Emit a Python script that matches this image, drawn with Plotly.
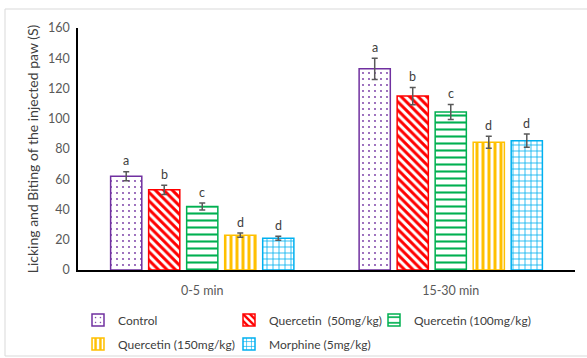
import plotly.graph_objects as go

# Time windows after injection
periods = ["0-5 min", "15-30 min"]

# Treatment groups
groups = ["Control", "Quercetin  (50mg/kg)", "Quercetin (100mg/kg)",
          "Quercetin (150mg/kg)", "Morphine (5mg/kg)"]

# Mean licking/biting time (s) per group, one value per period
control = [62, 133]
quercetin_50 = [53, 115]
quercetin_100 = [42, 104.5]
quercetin_150 = [23, 84.5]
morphine = [21, 85.5]

# Standard errors
control_err = [3, 7]
quercetin_50_err = [3, 5.7]
quercetin_100_err = [2.3, 5]
quercetin_150_err = [1.4, 4]
morphine_err = [1.3, 4.4]

# Significance letters
control_sig = ["a", "a"]
quercetin_50_sig = ["b", "b"]
quercetin_100_sig = ["c", "c"]
quercetin_150_sig = ["d", "d"]
morphine_sig = ["d", "d"]

values = [control, quercetin_50, quercetin_100, quercetin_150, morphine]
errors = [control_err, quercetin_50_err, quercetin_100_err, quercetin_150_err, morphine_err]
letters = [control_sig, quercetin_50_sig, quercetin_100_sig, quercetin_150_sig, morphine_sig]
colors = ["#7030A0", "#FF0000", "#00B050", "#FFC000", "#00B0F0"]
patterns = [(".", 6, 0.07), ("\\", 6, 0.5), ("-", 7, 0.3), ("|", 6, 0.5), ("+", 6, 0.25)]

FONT = "Lato, Calibri, sans-serif"
W, H = 587, 358
M_L, M_R, M_T, M_B = 78, 12, 28, 88
BARGAP, GROUPGAP = 0.235, 0.18

# One single-entry legend per group, laid out in two rows under the axis
legend_pos = [(78, 320), (229, 320), (374, 320), (78, 344), (229, 344)]
legend_ids = ["legend", "legend2", "legend3", "legend4", "legend5"]

fig = go.Figure()
for name, vals, errs, col, (shp, sz, sol), lid in zip(groups, values, errors, colors,
                                                      patterns, legend_ids):
    fig.add_trace(go.Bar(
        name=name, x=periods, y=vals, legend=lid,
        marker=dict(color="white", line=dict(color=col, width=1.5),
                    pattern=dict(shape=shp, fgcolor=col, bgcolor="white",
                                 size=sz, solidity=sol, fillmode="replace")),
        error_y=dict(type="data", array=errs, color="#595959",
                     thickness=1.5, width=3),
    ))

# Letter labels above each error bar, shifted to the bar's slot in its group
plot_w = W - M_L - M_R
plot_h = H - M_T - M_B
slot = plot_w / len(periods) * (1 - BARGAP) / len(groups)
for gi, (vals, errs, labs) in enumerate(zip(values, errors, letters)):
    for pi, p in enumerate(periods):
        fig.add_annotation(
            x=p, y=vals[pi] + errs[pi], text=labs[pi], showarrow=False,
            xshift=(gi - (len(groups) - 1) / 2) * slot, yshift=11,
            font=dict(family=FONT, size=12.5, color="#404040"),
        )

# Light frame around the whole chart
fig.add_shape(type="rect", xref="paper", yref="paper",
              x0=(5 - M_L) / plot_w, x1=1.2,
              y0=-(H - 2 - (H - M_B)) / plot_h, y1=(H - M_B - 9) / plot_h,
              line=dict(color="#D9D9D9", width=1), layer="below")

legend_style = dict(orientation="h", xref="container", yref="container",
                    xanchor="left", yanchor="middle", bgcolor="rgba(0,0,0,0)",
                    font=dict(family=FONT, size=12, color="#404040"))
layout_legends = {}
for lid, (lx, ly) in zip(legend_ids, legend_pos):
    layout_legends[lid] = dict(x=lx / W, y=1 - ly / H, **legend_style)

fig.update_layout(
    width=W, height=H,
    margin=dict(l=M_L, r=M_R, t=M_T, b=M_B, autoexpand=False),
    paper_bgcolor="white", plot_bgcolor="white",
    barmode="group", bargap=BARGAP, bargroupgap=GROUPGAP,
    font=dict(family=FONT, size=12, color="#595959"),
    showlegend=True,
    **layout_legends,
)
fig.update_yaxes(range=[0, 160], dtick=20, showgrid=False, zeroline=False,
                 showline=True, linecolor="black", linewidth=1.5, ticks="",
                 automargin=False,
                 ticklabelstandoff=4, tickfont=dict(size=12.5, color="#595959"),
                 title=dict(text="Licking and Biting of the injected paw (S)",
                            font=dict(size=14, color="#404040"), standoff=6))
fig.update_xaxes(showline=True, linecolor="black", linewidth=1.5, ticks="",
                 automargin=False,
                 ticklabelstandoff=8, tickfont=dict(size=12.5, color="#595959"))

fig.write_html("out.html")
